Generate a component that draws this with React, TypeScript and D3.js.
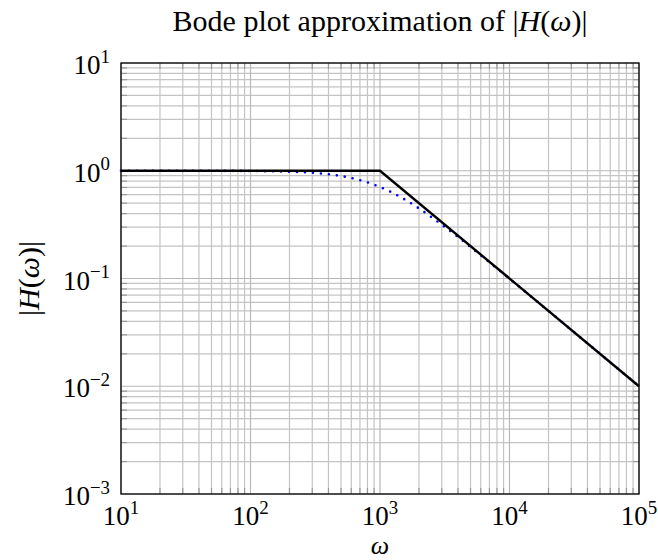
import React from "react";
import * as d3 from "d3";

// asymptotic (Bode) approximation
const asymW = [10, 1000, 100000];
const asymH = [1, 1, 0.01];

// true magnitude
const trueW = [10, 20, 50, 100, 150, 200, 300, 400, 500, 600, 700, 800, 900, 1000, 1200, 1500, 2000, 2500, 3000, 4000, 5000, 7000, 10000, 20000, 50000, 100000];
const trueH = [1, 1, 0.999, 0.995, 0.989, 0.981, 0.958, 0.928, 0.894, 0.857, 0.819, 0.781, 0.743, 0.707, 0.64, 0.555, 0.447, 0.371, 0.316, 0.243, 0.196, 0.141, 0.0995, 0.05, 0.02, 0.01];

const xTicks = [1, 2, 3, 4, 5];
const yTicks = [-3, -2, -1, 0, 1];

const W = 658, H = 560;
const left = 121, right = 639, top = 63, bottom = 494;
const serif = "'Liberation Serif', 'DejaVu Serif', serif";

function Pow({ x, y, e, anchor, size }: { x: number; y: number; e: number; anchor: string; size: number }) {
  return (
    <text x={x} y={y} textAnchor={anchor} fontFamily={serif} fontSize={size} fill="#000">
      10<tspan dy={-size * 0.42} fontSize={size * 0.7}>{e < 0 ? "\u2212" + -e : e}</tspan>
    </text>
  );
}

export default function App() {
  const x = d3.scaleLog().domain([10, 100000]).range([left, right]);
  const y = d3.scaleLog().domain([0.001, 10]).range([bottom, top]);

  const minorX: number[] = [];
  for (let d = 1; d < 5; d++) for (let m = 2; m <= 9; m++) minorX.push(m * Math.pow(10, d));
  const minorY: number[] = [];
  for (let d = -3; d < 1; d++) for (let m = 2; m <= 9; m++) minorY.push(m * Math.pow(10, d));

  const line = d3.line<[number, number]>().x(d => x(d[0])).y(d => y(d[1]));
  const smooth = d3.line<[number, number]>().x(d => x(d[0])).y(d => y(d[1])).curve(d3.curveMonotoneX);

  const asym = asymW.map((w, i) => [w, asymH[i]] as [number, number]);
  const tru = trueW.map((w, i) => [w, trueH[i]] as [number, number]);

  const grid = "#c4c4c4";
  const tick = "#9a9a9a";

  return (
    <svg width={W} height={H} style={{ position: "absolute", left: 0, top: 0, background: "#fff" }}>
      <rect width={W} height={H} fill="#fff" />
      {minorX.map(v => (
        <line key={"gx" + v} x1={x(v)} x2={x(v)} y1={top} y2={bottom} stroke={grid} strokeWidth={1.2} />
      ))}
      {minorY.map(v => (
        <line key={"gy" + v} x1={left} x2={right} y1={y(v)} y2={y(v)} stroke={grid} strokeWidth={1.2} />
      ))}
      {xTicks.map(e => (
        <line key={"Gx" + e} x1={x(Math.pow(10, e))} x2={x(Math.pow(10, e))} y1={top} y2={bottom} stroke="#b8b8b8" strokeWidth={1.2} />
      ))}
      {yTicks.map(e => (
        <line key={"Gy" + e} x1={left} x2={right} y1={y(Math.pow(10, e))} y2={y(Math.pow(10, e))} stroke="#b8b8b8" strokeWidth={1.2} />
      ))}
      {/* tick marks */}
      {minorX.map(v => (
        <g key={"tx" + v} stroke={tick} strokeWidth={1.2}>
          <line x1={x(v)} x2={x(v)} y1={bottom} y2={bottom - 6} />
          <line x1={x(v)} x2={x(v)} y1={top} y2={top + 6} />
        </g>
      ))}
      {minorY.map(v => (
        <g key={"ty" + v} stroke={tick} strokeWidth={1.2}>
          <line x1={left} x2={left + 6} y1={y(v)} y2={y(v)} />
          <line x1={right} x2={right - 6} y1={y(v)} y2={y(v)} />
        </g>
      ))}
      <path d={smooth(tru) || ""} fill="none" stroke="#0000ff" strokeWidth={2.6} strokeDasharray="0 8" strokeLinecap="round" />
      <path d={line(asym) || ""} fill="none" stroke="#000" strokeWidth={2.4} />
      <rect x={left} y={top} width={right - left} height={bottom - top} fill="none" stroke="#000" strokeWidth={1.3} />
      {xTicks.map(e => (
        <Pow key={"lx" + e} x={x(Math.pow(10, e))} y={525} e={e} anchor="middle" size={27} />
      ))}
      {yTicks.map(e => (
        <Pow key={"ly" + e} x={110} y={y(Math.pow(10, e)) + 11} e={e} anchor="end" size={27} />
      ))}
      <text x={(left + right) / 2} y={31} textAnchor="middle" fontFamily={serif} fontSize={30}>
        Bode plot approximation of |<tspan fontStyle="italic">H</tspan>(<tspan fontStyle="italic">ω</tspan>)|
      </text>
      <text x={(left + right) / 2} y={554} textAnchor="middle" fontFamily={serif} fontSize={26} fontStyle="italic">ω</text>
      <text transform={`translate(39,${(top + bottom) / 2}) rotate(-90)`} textAnchor="middle" fontFamily={serif} fontSize={30}>
        |<tspan fontStyle="italic">H</tspan>(<tspan fontStyle="italic">ω</tspan>)|
      </text>
    </svg>
  );
}
